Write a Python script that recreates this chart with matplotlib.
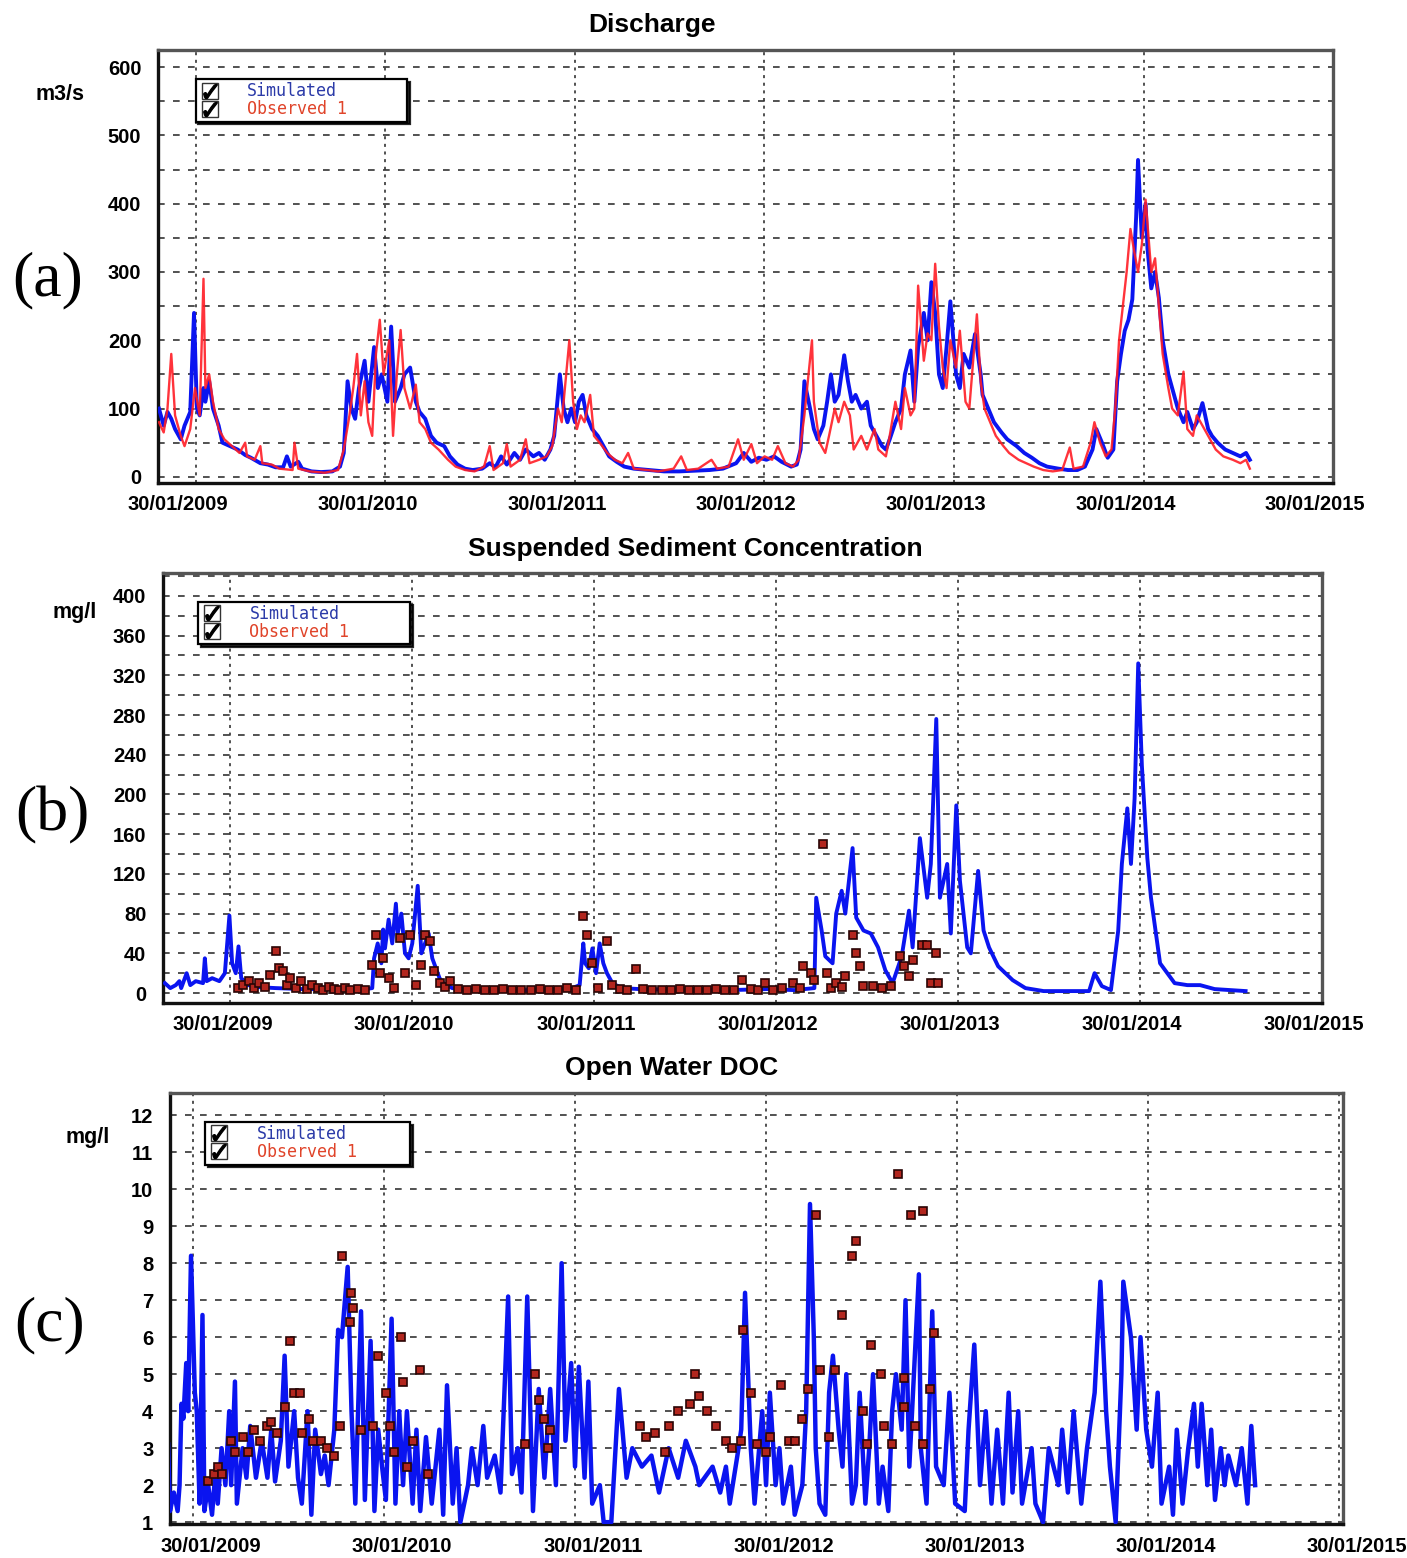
import numpy as np
import pandas as pd
import matplotlib
matplotlib.use("Agg")
import matplotlib.pyplot as plt
import matplotlib.transforms as mtransforms
from matplotlib.lines import Line2D
from matplotlib.ticker import MultipleLocator

# ---------------- data (t = years since 30/01/2009) ----------------
year_ticks = ["2009-01-30", "2010-01-30", "2011-01-30", "2012-01-30",
              "2013-01-30", "2014-01-30", "2015-01-30"]
year_labels = ["30/01/2009", "30/01/2010", "30/01/2011", "30/01/2012",
               "30/01/2013", "30/01/2014", "30/01/2015"]

# Discharge, simulated
q_sim_t = [-0.195, -0.17, -0.15, -0.13, -0.11, -0.08, -0.06, -0.03, -0.01, 0.005, 0.02, 0.04, 0.05, 0.07, 0.09,
           0.12, 0.14, 0.18, 0.22, 0.26, 0.29, 0.34, 0.38, 0.42, 0.46, 0.48, 0.50, 0.54, 0.56, 0.61, 0.66, 0.72,
           0.76, 0.78, 0.80, 0.82, 0.84, 0.86, 0.89, 0.91, 0.94, 0.96, 0.98, 1.01, 1.03, 1.05, 1.08, 1.10, 1.13,
           1.16, 1.18, 1.21, 1.24, 1.27, 1.31, 1.34, 1.38, 1.42, 1.46, 1.51, 1.55, 1.58, 1.61, 1.64, 1.68, 1.71,
           1.74, 1.78, 1.81, 1.84, 1.87, 1.89, 1.92, 1.94, 1.96, 1.98, 2.00, 2.02, 2.04, 2.06, 2.09, 2.12, 2.15,
           2.18, 2.22, 2.26, 2.31, 2.39, 2.47, 2.55, 2.63, 2.71, 2.78, 2.85, 2.89, 2.93, 2.97, 3.01, 3.05, 3.09,
           3.14, 3.17, 3.19, 3.21, 3.24, 3.26, 3.28, 3.31, 3.33, 3.35, 3.37, 3.39, 3.42, 3.44, 3.46, 3.48, 3.51,
           3.54, 3.56, 3.59, 3.62, 3.64, 3.66, 3.69, 3.72, 3.74, 3.77, 3.79, 3.81, 3.84, 3.86, 3.88, 3.90, 3.92,
           3.94, 3.96, 3.98, 4.01, 4.03, 4.05, 4.08, 4.11, 4.14, 4.15, 4.18, 4.21, 4.25, 4.28, 4.33, 4.37, 4.41,
           4.45, 4.49, 4.55, 4.60, 4.65, 4.69, 4.73, 4.75, 4.78, 4.81, 4.84, 4.86, 4.88, 4.90, 4.92, 4.94, 4.96,
           4.97, 4.99, 5.01, 5.02, 5.04, 5.06, 5.08, 5.10, 5.13, 5.15, 5.18, 5.21, 5.23, 5.26, 5.28, 5.31, 5.34,
           5.36, 5.39, 5.43, 5.47, 5.51, 5.54, 5.56]
q_sim = [100, 75, 95, 85, 70, 55, 75, 95, 240, 100, 90, 130, 110, 140, 100,
         75, 50, 45, 40, 32, 28, 20, 18, 14, 14, 30, 15, 22, 12, 8, 7, 8,
         15, 35, 140, 100, 85, 130, 170, 110, 190, 130, 150, 110, 220, 110, 130, 150, 160,
         110, 95, 85, 60, 50, 45, 30, 18, 12, 10, 12, 20, 14, 30, 18, 35, 25,
         40, 30, 35, 25, 40, 60, 150, 100, 80, 100, 80, 110, 120, 90, 70, 60, 45,
         30, 22, 15, 12, 10, 8, 8, 9, 10, 12, 20, 35, 22, 28, 25, 30, 22,
         15, 18, 40, 140, 100, 70, 55, 75, 110, 150, 110, 120, 178, 140, 110, 120, 100,
         110, 75, 60, 45, 40, 55, 80, 100, 150, 185, 110, 190, 240, 200, 285, 240, 150,
         130, 190, 257, 150, 130, 180, 160, 209, 150, 120, 100, 80, 65, 55, 45, 35, 28,
         20, 15, 12, 10, 10, 15, 40, 70, 50, 28, 40, 140, 180, 214, 230, 260, 380,
         464, 350, 400, 334, 276, 300, 262, 200, 150, 130, 100, 80, 95, 70, 80, 108, 70,
         60, 50, 40, 35, 30, 35, 25]

# Discharge, observed
q_obs_t = [-0.195, -0.17, -0.15, -0.13, -0.11, -0.08, -0.06, -0.03, -0.005, 0.02, 0.04, 0.05, 0.07, 0.09,
           0.12, 0.15, 0.19, 0.23, 0.26, 0.27, 0.31, 0.34, 0.35, 0.40, 0.44, 0.51, 0.52, 0.54, 0.60, 0.68,
           0.75, 0.78, 0.81, 0.83, 0.85, 0.87, 0.89, 0.91, 0.93, 0.95, 0.97, 0.99, 1.02, 1.04, 1.06, 1.08,
           1.10, 1.13, 1.16, 1.18, 1.21, 1.24, 1.28, 1.33, 1.37, 1.42, 1.47, 1.52, 1.55, 1.57, 1.62, 1.64,
           1.66, 1.71, 1.74, 1.76, 1.81, 1.85, 1.88, 1.91, 1.93, 1.97, 1.99, 2.01, 2.03, 2.05, 2.08, 2.10,
           2.13, 2.17, 2.21, 2.25, 2.28, 2.31, 2.38, 2.44, 2.52, 2.56, 2.59, 2.65, 2.72, 2.75, 2.81, 2.86,
           2.89, 2.93, 2.96, 3.00, 3.04, 3.07, 3.11, 3.15, 3.18, 3.21, 3.25, 3.26, 3.29, 3.32, 3.34, 3.37,
           3.39, 3.42, 3.45, 3.47, 3.51, 3.54, 3.58, 3.60, 3.64, 3.66, 3.69, 3.72, 3.74, 3.77, 3.79, 3.81,
           3.84, 3.86, 3.88, 3.90, 3.92, 3.94, 3.96, 3.98, 4.01, 4.03, 4.06, 4.08, 4.12, 4.14, 4.16, 4.19,
           4.22, 4.26, 4.29, 4.34, 4.38, 4.42, 4.47, 4.52, 4.57, 4.61, 4.63, 4.68, 4.72, 4.74, 4.77, 4.80,
           4.83, 4.85, 4.87, 4.89, 4.91, 4.93, 4.95, 4.97, 4.99, 5.01, 5.04, 5.06, 5.08, 5.10, 5.13, 5.15,
           5.18, 5.21, 5.23, 5.26, 5.28, 5.32, 5.35, 5.38, 5.42, 5.47, 5.51, 5.54, 5.56]
q_obs = [80, 65, 100, 180, 90, 60, 45, 70, 130, 90, 290, 130, 150, 110,
         70, 55, 45, 35, 50, 30, 25, 45, 20, 18, 12, 10, 50, 12, 8, 6,
         10, 40, 90, 130, 180, 90, 140, 80, 60, 180, 230, 150, 200, 60, 150, 215,
         130, 100, 135, 80, 70, 50, 40, 25, 15, 10, 8, 15, 45, 10, 20, 48,
         15, 25, 55, 20, 25, 30, 45, 100, 80, 200, 110, 70, 90, 80, 120, 60,
         50, 35, 25, 20, 35, 12, 10, 8, 12, 30, 10, 12, 25, 12, 15, 55,
         25, 48, 20, 30, 25, 45, 20, 15, 25, 90, 200, 110, 50, 35, 60, 100,
         80, 110, 90, 40, 60, 40, 70, 40, 30, 60, 110, 70, 130, 90, 100, 280,
         170, 210, 200, 312, 220, 160, 130, 200, 160, 214, 110, 100, 238, 140, 100, 80,
         60, 45, 35, 25, 20, 15, 10, 8, 10, 43, 12, 15, 50, 80, 50, 30,
         40, 100, 200, 250, 300, 363, 330, 300, 340, 406, 300, 320, 250, 180, 130, 100,
         90, 154, 70, 60, 90, 70, 55, 40, 30, 25, 20, 25, 12]

# Suspended sediment, simulated
ssc_sim_t = [-0.36, -0.33, -0.30, -0.28, -0.27, -0.24, -0.22, -0.19, -0.15, -0.14, -0.13, -0.10, -0.06, -0.03,
             -0.005, 0.01, 0.03, 0.045, 0.06, 0.10, 0.15, 0.25, 0.40, 0.55, 0.70, 0.78, 0.79, 0.81, 0.83, 0.84,
             0.85, 0.87, 0.89, 0.91, 0.92, 0.94, 0.96, 0.98, 1.00, 1.03, 1.05, 1.07, 1.09, 1.11, 1.13, 1.15,
             1.17, 1.22, 1.35, 1.50, 1.65, 1.80, 1.88, 1.92, 1.94, 1.95, 1.97, 1.99, 2.01, 2.03, 2.05, 2.07,
             2.10, 2.15, 2.25, 2.50, 2.75, 2.95, 3.10, 3.21, 3.22, 3.25, 3.27, 3.31, 3.33, 3.36, 3.38, 3.42,
             3.44, 3.48, 3.52, 3.56, 3.60, 3.64, 3.69, 3.73, 3.75, 3.79, 3.83, 3.85, 3.88, 3.90, 3.94, 3.96,
             3.99, 4.01, 4.05, 4.07, 4.11, 4.14, 4.17, 4.22, 4.30, 4.37, 4.47, 4.57, 4.72, 4.75, 4.79, 4.84,
             4.88, 4.90, 4.93, 4.95, 4.97, 4.99, 5.01, 5.04, 5.06, 5.11, 5.19, 5.26, 5.33, 5.41, 5.58]
ssc_sim = [10, 5, 8, 12, 5, 20, 8, 12, 10, 35, 12, 15, 12, 20,
           78, 30, 20, 47, 15, 8, 6, 5, 4, 4, 3, 5, 35, 50, 30, 64,
           45, 74, 50, 90, 60, 80, 40, 35, 50, 108, 40, 50, 60, 35, 25, 15,
           10, 5, 3, 3, 3, 4, 5, 8, 50, 30, 25, 45, 20, 50, 30, 20,
           10, 5, 4, 3, 3, 4, 3, 5, 96, 63, 37, 30, 80, 103, 80, 146,
           76, 63, 60, 46, 23, 10, 37, 83, 46, 156, 96, 130, 276, 96, 130, 60,
           189, 113, 46, 40, 123, 63, 46, 27, 13, 5, 2, 2, 2, 20, 7, 3,
           63, 130, 186, 130, 196, 332, 229, 136, 96, 30, 10, 8, 8, 4, 2]

# Suspended sediment, observed
ssc_obs_t = [0.04, 0.07, 0.10, 0.13, 0.16, 0.19, 0.22, 0.25, 0.27, 0.29, 0.31, 0.33, 0.36, 0.39, 0.42,
             0.45, 0.48, 0.51, 0.54, 0.57, 0.60, 0.63, 0.66, 0.70, 0.74, 0.78, 0.80, 0.82, 0.84, 0.87,
             0.90, 0.93, 0.96, 0.99, 1.02, 1.05, 1.07, 1.10, 1.12, 1.15, 1.18, 1.21, 1.25, 1.30, 1.35,
             1.40, 1.45, 1.50, 1.55, 1.60, 1.65, 1.70, 1.75, 1.80, 1.85, 1.90, 1.94, 1.96, 1.99, 2.02,
             2.07, 2.10, 2.14, 2.18, 2.23, 2.27, 2.32, 2.37, 2.42, 2.47, 2.52, 2.57, 2.62, 2.67, 2.72,
             2.77, 2.81, 2.86, 2.90, 2.94, 2.98, 3.03, 3.09, 3.13, 3.15, 3.19, 3.21, 3.26, 3.28, 3.30,
             3.33, 3.36, 3.38, 3.42, 3.44, 3.46, 3.48, 3.53, 3.58, 3.63, 3.68, 3.70, 3.73, 3.75, 3.80,
             3.83, 3.85, 3.88, 3.89]
ssc_obs = [5, 8, 12, 5, 10, 6, 18, 42, 25, 22, 8, 15, 5, 12, 4,
           8, 5, 3, 6, 4, 3, 5, 3, 4, 3, 28, 58, 20, 35, 15,
           5, 55, 20, 58, 8, 28, 58, 52, 22, 10, 6, 12, 4, 3, 4,
           3, 3, 4, 3, 3, 3, 4, 3, 3, 5, 3, 78, 58, 30, 5,
           52, 8, 4, 3, 24, 4, 3, 3, 3, 4, 3, 3, 3, 4, 3,
           3, 13, 4, 3, 10, 3, 5, 10, 5, 27, 20, 13, 150, 20, 5,
           10, 6, 17, 58, 40, 27, 7, 7, 5, 7, 37, 27, 17, 33, 48,
           48, 10, 40, 10]

# Open water DOC, simulated
doc_sim_t = [-0.13, -0.12, -0.10, -0.08, -0.07, -0.06, -0.05, -0.035, -0.025, -0.01, 0.01, 0.02, 0.035, 0.05,
             0.06, 0.08, 0.10, 0.12, 0.13, 0.15, 0.17, 0.19, 0.20, 0.22, 0.23, 0.26, 0.28, 0.30, 0.33, 0.36,
             0.39, 0.41, 0.43, 0.46, 0.48, 0.50, 0.53, 0.55, 0.57, 0.60, 0.62, 0.64, 0.67, 0.69, 0.71, 0.74,
             0.76, 0.78, 0.81, 0.83, 0.85, 0.88, 0.90, 0.93, 0.95, 0.97, 0.99, 1.01, 1.04, 1.06, 1.08, 1.10,
             1.12, 1.15, 1.17, 1.19, 1.22, 1.25, 1.29, 1.31, 1.33, 1.36, 1.38, 1.40, 1.44, 1.46, 1.49, 1.52,
             1.54, 1.58, 1.61, 1.65, 1.67, 1.70, 1.72, 1.75, 1.78, 1.81, 1.84, 1.87, 1.90, 1.93, 1.95, 1.98,
             2.00, 2.02, 2.05, 2.07, 2.09, 2.13, 2.15, 2.19, 2.23, 2.27, 2.30, 2.35, 2.40, 2.44, 2.49, 2.54,
             2.58, 2.63, 2.65, 2.72, 2.76, 2.79, 2.81, 2.85, 2.87, 2.89, 2.92, 2.94, 2.98, 3.00, 3.02, 3.05,
             3.07, 3.09, 3.13, 3.15, 3.19, 3.21, 3.23, 3.25, 3.26, 3.28, 3.31, 3.33, 3.35, 3.38, 3.40, 3.42,
             3.45, 3.47, 3.49, 3.52, 3.54, 3.56, 3.59, 3.61, 3.64, 3.66, 3.68, 3.71, 3.73, 3.75, 3.80, 3.81,
             3.84, 3.87, 3.89, 3.93, 3.96, 3.99, 4.04, 4.06, 4.09, 4.12, 4.15, 4.18, 4.21, 4.24, 4.27, 4.29,
             4.32, 4.34, 4.39, 4.41, 4.45, 4.48, 4.53, 4.55, 4.58, 4.61, 4.65, 4.68, 4.72, 4.75, 4.78, 4.80,
             4.83, 4.86, 4.87, 4.91, 4.94, 4.96, 4.99, 5.02, 5.05, 5.07, 5.11, 5.13, 5.15, 5.18, 5.21, 5.24,
             5.26, 5.28, 5.31, 5.33, 5.35, 5.38, 5.40, 5.42, 5.46, 5.49, 5.52, 5.54, 5.56]
doc_sim = [3.1, 1.3, 1.8, 1.3, 2.0, 4.2, 3.8, 5.3, 4.0, 8.2, 4.5, 4.0, 1.5, 6.6,
           1.3, 2.0, 1.2, 2.5, 1.5, 3.0, 2.0, 4.0, 2.0, 4.8, 1.5, 3.0, 2.2, 3.6, 2.2, 3.2,
           2.2, 3.5, 2.1, 3.2, 5.5, 2.5, 4.0, 2.2, 1.5, 4.0, 1.2, 3.5, 2.3, 2.8, 2.0, 3.5,
           6.2, 6.0, 7.9, 4.0, 1.5, 6.7, 1.6, 5.9, 1.3, 3.5, 2.5, 1.6, 6.5, 1.5, 4.0, 2.0,
           4.0, 1.5, 3.5, 1.3, 3.3, 1.5, 3.5, 1.2, 4.7, 1.5, 3.0, 1.0, 2.0, 3.0, 2.0, 3.6,
           2.2, 2.8, 1.8, 7.1, 2.3, 3.0, 1.8, 7.1, 1.3, 4.6, 2.2, 4.6, 2.0, 8.0, 3.2, 5.3,
           2.5, 5.2, 2.2, 4.8, 1.5, 2.0, 1.0, 1.0, 4.6, 2.2, 3.0, 2.5, 2.8, 1.8, 3.0, 2.2,
           3.2, 2.5, 2.0, 2.5, 1.8, 2.5, 1.5, 2.8, 3.5, 7.2, 3.0, 1.5, 4.0, 2.0, 4.5, 2.0,
           3.0, 1.5, 2.5, 1.2, 2.0, 4.0, 9.6, 6.0, 3.0, 1.5, 1.2, 4.5, 5.5, 3.5, 2.5, 5.0,
           1.5, 2.0, 4.5, 1.5, 3.0, 5.0, 1.5, 2.5, 1.3, 4.0, 5.0, 3.5, 7.0, 2.5, 7.7, 3.0,
           1.5, 6.7, 2.5, 2.0, 4.5, 1.5, 1.3, 3.5, 5.8, 2.0, 4.0, 1.5, 3.5, 1.5, 4.5, 1.8,
           4.0, 1.5, 3.0, 1.5, 1.0, 3.0, 2.0, 3.5, 1.8, 4.0, 1.5, 3.0, 4.5, 7.5, 4.0, 2.5,
           1.0, 5.0, 7.5, 6.0, 3.5, 6.0, 3.5, 2.5, 4.5, 1.5, 2.5, 1.2, 3.5, 1.5, 3.0, 4.2,
           2.5, 4.2, 2.0, 3.5, 1.6, 3.0, 2.0, 2.8, 2.0, 3.0, 1.5, 3.6, 2.0]

# Open water DOC, observed
doc_obs_t = [0.08, 0.11, 0.13, 0.15, 0.20, 0.22, 0.26, 0.29, 0.32, 0.35, 0.39, 0.41, 0.44, 0.48, 0.51,
             0.53, 0.56, 0.57, 0.61, 0.63, 0.67, 0.70, 0.74, 0.77, 0.78, 0.82, 0.83, 0.84, 0.88, 0.94,
             0.97, 1.01, 1.03, 1.05, 1.09, 1.10, 1.12, 1.15, 1.19, 1.23, 1.74, 1.79, 1.81, 1.84, 1.86,
             1.87, 2.34, 2.37, 2.42, 2.47, 2.49, 2.54, 2.60, 2.63, 2.65, 2.69, 2.74, 2.79, 2.82, 2.87,
             2.88, 2.92, 2.95, 3.00, 3.02, 3.08, 3.12, 3.15, 3.19, 3.22, 3.26, 3.28, 3.33, 3.36, 3.40,
             3.45, 3.47, 3.51, 3.53, 3.55, 3.60, 3.62, 3.66, 3.69, 3.72, 3.72, 3.76, 3.78, 3.82, 3.82,
             3.86, 3.88]
doc_obs = [2.1, 2.3, 2.5, 2.3, 3.2, 2.9, 3.3, 2.9, 3.5, 3.2, 3.6, 3.7, 3.4, 4.1, 5.9,
           4.5, 4.5, 3.4, 3.8, 3.2, 3.2, 3.0, 2.8, 3.6, 8.2, 6.4, 7.2, 6.8, 3.5, 3.6,
           5.5, 4.5, 3.6, 2.9, 6.0, 4.8, 2.5, 3.2, 5.1, 2.3, 3.1, 5.0, 4.3, 3.8, 3.0,
           3.5, 3.6, 3.3, 3.4, 2.9, 3.6, 4.0, 4.2, 5.0, 4.4, 4.0, 3.6, 3.2, 3.0, 3.2,
           6.2, 4.5, 3.1, 2.9, 3.3, 4.7, 3.2, 3.2, 3.8, 4.6, 9.3, 5.1, 3.3, 5.1, 6.6,
           8.2, 8.6, 4.0, 3.1, 5.8, 5.0, 3.6, 3.1, 10.4, 4.9, 4.1, 9.3, 3.6, 9.4, 3.1,
           4.6, 6.1]

# ---------------- helpers ----------------
BASE = pd.Timestamp("2009-01-30")


def to_dates(t):
    return BASE + pd.to_timedelta(np.asarray(t, dtype=float) * 365.25, unit="D")


BLUE = "#0a14f0"
RED = "#ff1d25"
SQ_FACE = "#b3261e"
SQ_EDGE = "#2a0505"
TICKFONT = dict(family="Liberation Sans", weight="bold", size=14.5)

fig = plt.figure(figsize=(14.07, 15.58), dpi=100)
fig.patch.set_facecolor("white")

W, H = 1407.0, 1558.0


def make_ax(l, r, t, b):
    return fig.add_axes([l / W, 1 - b / H, (r - l) / W, (b - t) / H])


def style(ax, xlim_t, ylim, ymin, yticks, xlab_dx):
    ax.set_xlim(to_dates([xlim_t[0]])[0], to_dates([xlim_t[1]])[0])
    ax.set_ylim(*ylim)
    ax.set_yticks(yticks)
    ax.set_yticklabels([str(v) for v in yticks], fontdict=TICKFONT)
    ax.yaxis.set_minor_locator(MultipleLocator(ymin))
    ax.set_xticks(pd.to_datetime(year_ticks))
    ax.set_xticklabels(year_labels, fontdict=TICKFONT)
    ax.tick_params(axis="both", which="both", length=0)
    ax.tick_params(axis="y", pad=12)
    ax.tick_params(axis="x", pad=9)
    off = mtransforms.ScaledTranslation(xlab_dx / 100.0, 0, fig.dpi_scale_trans)
    for lab in ax.get_xticklabels():
        lab.set_transform(lab.get_transform() + off)
    ax.grid(True, axis="x", which="major", color="#222222", linestyle=(0, (2, 3)), linewidth=1.1, zorder=0)
    ax.grid(True, axis="y", which="both", color="#333333", linestyle=(0, (4, 5)), linewidth=1.2, zorder=0)
    for side, sp in ax.spines.items():
        sp.set_linewidth(2.4)
        sp.set_color("#111111" if side in ("left", "bottom") else "#555555")
    ax.set_axisbelow(True)


def legend(ax, x0, top, width):
    def chk():
        box = Line2D([], [], marker="s", markersize=11, markerfacecolor="none",
                     markeredgecolor="#333333", markeredgewidth=1.0, linestyle="none")
        tick = Line2D([], [], marker=r"$\checkmark$", markersize=10, color="black", linestyle="none")
        return (box, tick)
    lg = ax.legend([chk(), chk()], ["Simulated", "Observed 1"], loc="upper left",
                   bbox_to_anchor=(x0, top - 0.1, width, 0.1), mode="expand",
                   frameon=True, fancybox=False, shadow={"color": "black", "alpha": 0.85},
                   framealpha=1, edgecolor="black",
                   labelcolor=["#2b3aa8", "#e0442a"], prop=dict(family="DejaVu Sans Mono", size=12),
                   borderpad=0.2, labelspacing=0.0, handletextpad=1.6, handlelength=1.3,
                   borderaxespad=0)
    lg.get_frame().set_linewidth(1.6)
    lg.set_zorder(10)


# ---------------- (a) Discharge ----------------
ax1 = make_ax(158, 1333, 50, 483)
style(ax1, (-0.2, 5.98), (-9, 625), 50, [0, 100, 200, 300, 400, 500, 600], -18)
ax1.plot(to_dates(q_sim_t), q_sim, color=BLUE, lw=2.8, zorder=3)
ax1.plot(to_dates(q_obs_t), q_obs, color=RED, lw=1.7, alpha=0.9, zorder=4)
legend(ax1, 0.032, 0.933, 0.180)

# ---------------- (b) Suspended sediment ----------------
ax2 = make_ax(163, 1322, 573, 1003)
style(ax2, (-0.37, 6.0), (-10, 423), 20, [0, 40, 80, 120, 160, 200, 240, 280, 320, 360, 400], -8)
ax2.plot(to_dates(ssc_sim_t), ssc_sim, color=BLUE, lw=2.8, zorder=3)
ax2.plot(to_dates(ssc_obs_t), ssc_obs, linestyle="none", marker="s", markersize=6,
         markerfacecolor=SQ_FACE, markeredgecolor=SQ_EDGE, markeredgewidth=1.2, zorder=4)
legend(ax2, 0.030, 0.933, 0.183)

# ---------------- (c) Open Water DOC ----------------
ax3 = make_ax(170, 1343, 1093, 1524)
style(ax3, (-0.12, 6.02), (0.95, 12.6), 1, list(range(1, 13)), 18)
ax3.plot(to_dates(doc_sim_t), doc_sim, color=BLUE, lw=3.2, zorder=3)
ax3.plot(to_dates(doc_obs_t), doc_obs, linestyle="none", marker="s", markersize=6,
         markerfacecolor=SQ_FACE, markeredgecolor=SQ_EDGE, markeredgewidth=1.2, zorder=4)
legend(ax3, 0.030, 0.933, 0.175)

# ---------------- titles, units, panel letters ----------------
tfont = dict(family="Liberation Sans", weight="bold", size=19)
fig.text(652 / W, 1 - 25 / H, "Discharge", ha="center", va="center", **tfont)
fig.text(695 / W, 1 - 549 / H, "Suspended Sediment Concentration", ha="center", va="center", **tfont)
fig.text(672 / W, 1 - 1068 / H, "Open Water DOC", ha="center", va="center", **tfont)

ufont = dict(family="Liberation Sans", weight="bold", size=15.5)
fig.text(60 / W, 1 - 95 / H, "m3/s", ha="center", va="center", **ufont)
fig.text(75 / W, 1 - 612 / H, "mg/l", ha="center", va="center", **ufont)
fig.text(88 / W, 1 - 1137 / H, "mg/l", ha="center", va="center", **ufont)

lfont = dict(family="Liberation Serif", size=46)
fig.text(48 / W, 1 - 280 / H, "(a)", ha="center", va="center", **lfont)
fig.text(52 / W, 1 - 815 / H, "(b)", ha="center", va="center", **lfont)
fig.text(50 / W, 1 - 1325 / H, "(c)", ha="center", va="center", **lfont)

fig.savefig("out.png", dpi=100, facecolor="white")
